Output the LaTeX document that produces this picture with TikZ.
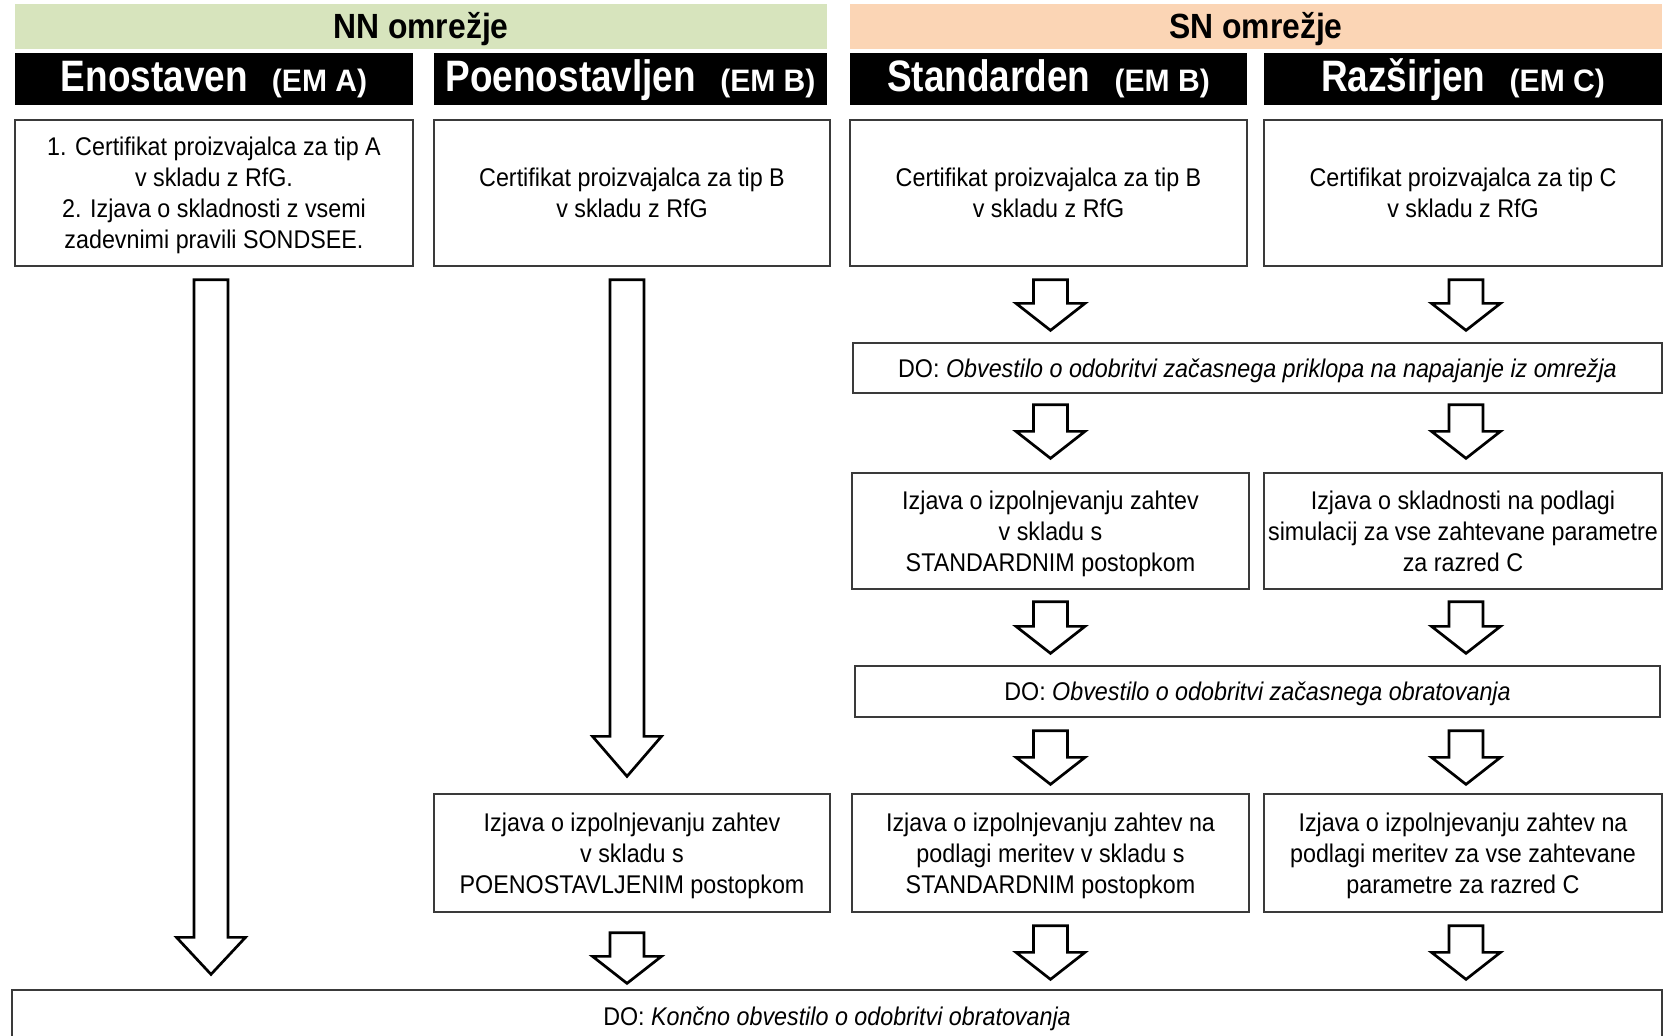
\documentclass[tikz,border=0pt]{standalone}
\usepackage{fontspec}
\setmainfont{Liberation Sans}[FakeStretch=0.91]
\newfontfamily\hdrfont{Liberation Sans}[FakeStretch=0.84]
\newfontfamily\emfont{Liberation Sans}[FakeStretch=0.97]
\usetikzlibrary{calc}
\definecolor{nngreen}{HTML}{D7E4BD}
\definecolor{snpeach}{HTML}{FBD5B5}
\definecolor{bord}{HTML}{3A3A3A}
\newcommand\barrow[7]{% #1 head length, #2 x node, #3 from node, #4 to node, #5 top gap, #6 tip gap, #7 x offset
  \draw[blockarrow] let \p1=($(#2.center)+(#7,0)$), \p2=(#3.south), \p3=(#4.north) in
   (\x1-17pt,\y2-#5pt) -- (\x1+17pt,\y2-#5pt) -- (\x1+17pt,\y3+#6pt+#1pt)
   -- (\x1+34.5pt,\y3+#6pt+#1pt) -- (\x1,\y3+#6pt) -- (\x1-34.5pt,\y3+#6pt+#1pt)
   -- (\x1-17pt,\y3+#6pt+#1pt) -- cycle;}
\begin{document}
\begin{tikzpicture}[x=1pt,y=-1pt,
  netband/.style={inner sep=0pt, minimum height=45pt, minimum width=812pt,
    text height=25pt, text depth=2pt,
    font=\bfseries\fontsize{35}{35}\selectfont},
  blackhdr/.style={fill=black, text=white, inner sep=0pt, minimum height=52pt,
    text height=31pt, text depth=6pt,
    font=\hdrfont\bfseries\fontsize{44}{44}\selectfont},
  box/.style={draw=bord, line width=1.3pt, fill=white, align=center, inner sep=0pt,
    text depth=0pt, font=\fontsize{25.6}{31}\selectfont},
  blockarrow/.style={draw=black, line width=2.7pt, fill=white, line join=miter}]
\useasboundingbox (0,0) rectangle (1663,1036);
\clip (0,0) rectangle (1663,1036);
\fill[white] (0,0) rectangle (1663,1036);

% network bands
\node[netband, fill=nngreen] (nn) at (421,26.5) {NN omrežje};
\node[netband, fill=snpeach] (sn) at (1256,26.5) {SN omrežje};

% black column headers
\newcommand\emsub[1]{\hspace{0.55em}{\emfont\bfseries\fontsize{31}{31}\selectfont(#1)}}
\node[blackhdr, minimum width=398pt] (hE) at (214,79) {Enostaven\emsub{EM A}};
\node[blackhdr, minimum width=393pt] (hP) at (630.5,79) {Poenostavljen\emsub{EM B}};
\node[blackhdr, minimum width=397pt] (hS) at (1048.5,79) {Standarden\emsub{EM B}};
\node[blackhdr, minimum width=398pt] (hR) at (1463,79) {Razširjen\emsub{EM C}};

% row 1
\node[box, minimum width=398pt, minimum height=146pt] (b1) at (214,193)
  {1. Certifikat proizvajalca za tip A\\ v skladu z RfG.\\ 2. Izjava o skladnosti z vsemi\\ zadevnimi pravili SONDSEE.};
\node[box, minimum width=396pt, minimum height=146pt] (b2) at (632,193)
  {Certifikat proizvajalca za tip B\\ v skladu z RfG};
\node[box, minimum width=397pt, minimum height=146pt] (b3) at (1048.5,193)
  {Certifikat proizvajalca za tip B\\ v skladu z RfG};
\node[box, minimum width=398pt, minimum height=146pt] (b4) at (1463,193)
  {Certifikat proizvajalca za tip C\\ v skladu z RfG};

% DO 1
\node[box, minimum width=809pt, minimum height=50pt] (do1) at (1257.5,368)
  {DO: \textit{Obvestilo o odobritvi začasnega priklopa na napajanje iz omrežja}};

% row 3
\node[box, minimum width=397pt, minimum height=116pt] (c3) at (1050.5,531)
  {Izjava o izpolnjevanju zahtev\\ v skladu s\\ STANDARDNIM postopkom};
\node[box, minimum width=398pt, minimum height=116pt] (c4) at (1463,531)
  {Izjava o skladnosti na podlagi\\ simulacij za vse zahtevane parametre\\ za razred C};

% DO 2
\node[box, minimum width=805pt, minimum height=51pt] (do2) at (1257.5,691.5)
  {DO: \textit{Obvestilo o odobritvi začasnega obratovanja}};

% row 5
\node[box, minimum width=396pt, minimum height=118pt] (d2) at (632,853)
  {Izjava o izpolnjevanju zahtev\\ v skladu s\\ POENOSTAVLJENIM postopkom};
\node[box, minimum width=397pt, minimum height=118pt] (d3) at (1050.5,853)
  {Izjava o izpolnjevanju zahtev na\\ podlagi meritev v skladu s\\ STANDARDNIM postopkom};
\node[box, minimum width=398pt, minimum height=118pt] (d4) at (1463,853)
  {Izjava o izpolnjevanju zahtev na\\ podlagi meritev za vse zahtevane\\ parametre za razred C};

% final
\node[box, minimum width=1650pt, minimum height=52pt] (fin) at (837,1016)
  {DO: \textit{Končno obvestilo o odobritvi obratovanja}};

% block arrows
\barrow{37}{b1}{b1}{fin}{13}{15}{-3}
\barrow{40}{b2}{b2}{d2}{13}{17}{-5}
\barrow{27}{b3}{b3}{do1}{13}{12}{2}
\barrow{27}{b4}{b4}{do1}{13}{12}{3}
\barrow{27}{c3}{do1}{c3}{11}{14}{0}
\barrow{27}{c4}{do1}{c4}{11}{14}{3}
\barrow{27}{c3}{c3}{do2}{12}{12}{0}
\barrow{27}{c4}{c4}{do2}{12}{12}{3}
\barrow{27}{d3}{do2}{d3}{13}{9}{0}
\barrow{27}{d4}{do2}{d4}{13}{9}{3}
\barrow{27}{d2}{d2}{fin}{20}{6}{-5}
\barrow{27}{d3}{d3}{fin}{13}{10}{0}
\barrow{27}{d4}{d4}{fin}{13}{10}{3}
\end{tikzpicture}
\end{document}
